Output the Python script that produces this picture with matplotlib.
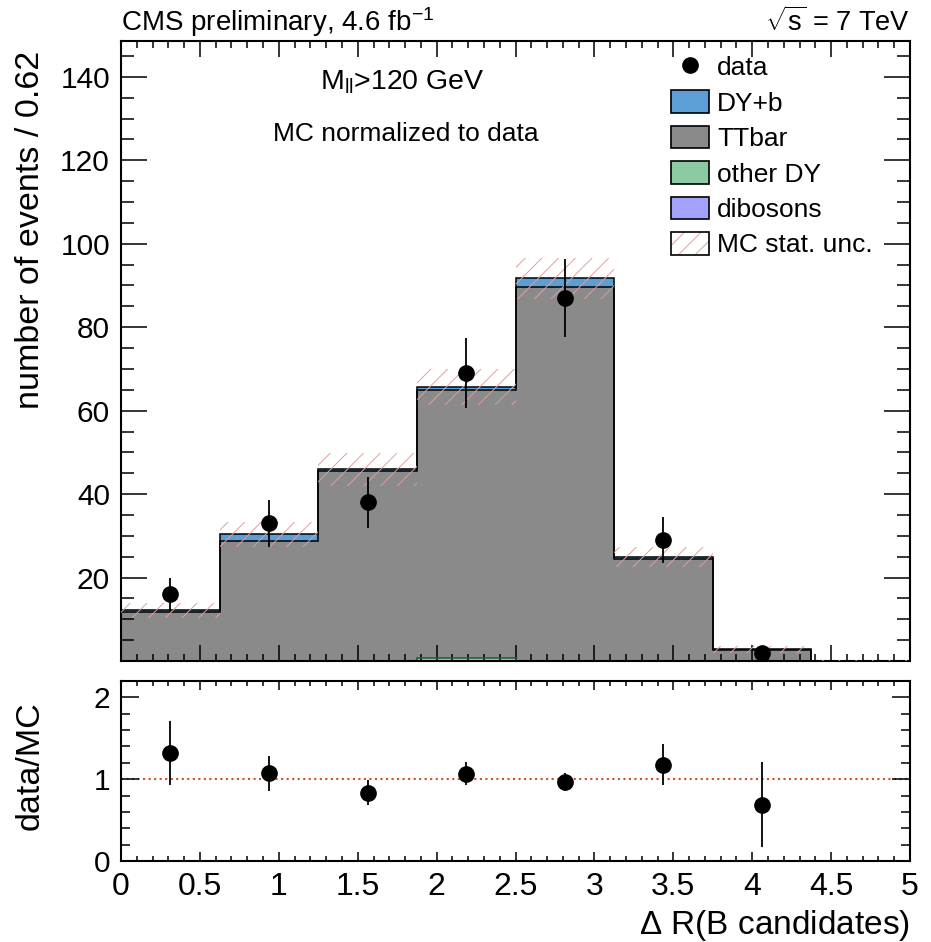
import numpy as np
import matplotlib
matplotlib.use("Agg")
import matplotlib.pyplot as plt
from matplotlib.patches import Patch
from matplotlib.lines import Line2D
from matplotlib.ticker import MultipleLocator

plt.rcParams['font.family'] = ['Liberation Sans', 'DejaVu Sans']
plt.rcParams['mathtext.fontset'] = 'custom'
plt.rcParams['mathtext.rm'] = 'Liberation Sans'
plt.rcParams['mathtext.it'] = 'Liberation Sans'
plt.rcParams['hatch.linewidth'] = 0.7

# histogram binning: 8 bins of 0.625 in Delta R
x_edges = np.linspace(0, 5, 9)

# stacked MC (events / bin), bottom to top
dibosons = [0.0, 0.0, 0.0, 0.0, 0.0, 0.0, 0.0, 0.0]
other_dy = [0.0, 0.0, 0.0, 0.6, 0.0, 0.0, 0.0, 0.0]
ttbar = [11.8, 28.8, 45.5, 64.4, 89.7, 24.5, 2.7, 0.1]
dy_b = [0.4, 1.6, 0.4, 0.7, 2.0, 0.4, 0.1, 0.0]
mc_unc = [1.8, 3.0, 4.0, 4.4, 5.0, 2.4, 0.8, 0.1]

# data
data = [16, 33, 38, 69, 87, 29, 2, 0]
data_err = [4.0, 5.7, 6.2, 8.3, 9.3, 5.4, 1.4, 0.0]

# ratio panel
ratio = [1.32, 1.07, 0.835, 1.065, 0.96, 1.175, 0.685]
ratio_err = [0.39, 0.215, 0.155, 0.14, 0.11, 0.25, 0.52]

c_dyb = '#5b9fd6'
c_tt = '#8a8a8a'
c_odb = '#8ccaa2'
c_dib = '#a3a3fb'
c_hatch = '#e0a0a0'

fig = plt.figure(figsize=(9.31, 9.42), dpi=100)
ax = fig.add_axes([0.130, 0.2983, 0.8475, 0.6582])
rax = fig.add_axes([0.130, 0.0860, 0.8475, 0.1911])

centers = 0.5 * (x_edges[:-1] + x_edges[1:])
width = x_edges[1] - x_edges[0]

# stacked fills
base = np.zeros(len(ttbar))
layers = [(dibosons, c_dib, '#5050a0'), (other_dy, c_odb, '#1f5a30'),
          (ttbar, c_tt, 'black'), (dy_b, c_dyb, 'black')]
tops = []
for vals, fc, ec in layers:
    top = base + np.array(vals)
    ax.stairs(top, x_edges, baseline=base, fill=True, facecolor=fc,
              edgecolor='none', linewidth=0, zorder=1)
    tops.append((top.copy(), ec, np.any(np.array(vals) > 0)))
    base = top
for top, ec, show in tops:
    if show:
        ax.stairs(top, x_edges, baseline=0, fill=False, edgecolor=ec,
                  linewidth=1.1, zorder=2)
total = base

# MC stat band
unc = np.array(mc_unc)
ax.bar(centers, 2 * unc, bottom=total - unc, width=width, fill=False,
       hatch='//', edgecolor=c_hatch, linewidth=0, zorder=3)

# data points
d = np.array(data, dtype=float)
m = d > 0
ax.errorbar(centers[m], d[m], yerr=np.array(data_err)[m], fmt='o', color='black',
            markersize=11, elinewidth=1.3, capsize=0, zorder=5)

ax.set_xlim(0, 5)
ax.set_ylim(0, 148.6)
ax.set_yticks(np.arange(0, 141, 20))
ax.set_yticklabels([''] + [str(v) for v in range(20, 141, 20)])
ax.yaxis.set_minor_locator(MultipleLocator(5))
ax.xaxis.set_major_locator(MultipleLocator(0.5))
ax.xaxis.set_minor_locator(MultipleLocator(0.1))
ax.tick_params(axis='x', which='both', labelbottom=False)
ax.tick_params(which='both', direction='in', top=True, right=True, width=1.1)
ax.tick_params(axis='y', which='major', length=19, labelsize=21.5, pad=8)
ax.tick_params(axis='y', which='minor', length=9.5)
ax.tick_params(axis='x', which='major', length=11.5)
ax.tick_params(axis='x', which='minor', length=5)
for s in ax.spines.values():
    s.set_linewidth(1.5)
ax.set_ylabel('number of events / 0.62', fontsize=24.5, loc='top', labelpad=6)

# texts
fig.text(0.130, 0.967, 'CMS preliminary, 4.6 fb$^{\\mathregular{-1}}$', fontsize=20,
         ha='left', va='baseline')
fig.text(0.9775, 0.967, '$\\sqrt{\\mathregular{s}}$ = 7 TeV', fontsize=19.5,
         ha='right', va='baseline')
ax.text(0.357, 0.933, 'M$_{\\mathregular{ll}}$>120 GeV', transform=ax.transAxes,
        fontsize=20.5, ha='center', va='center')
ax.text(0.361, 0.850, 'MC normalized to data', transform=ax.transAxes,
        fontsize=19, ha='center', va='center')

# legend
handles = [
    Line2D([], [], marker='o', color='black', linestyle='none', markersize=11),
    Patch(facecolor=c_dyb, edgecolor='black', linewidth=1.2),
    Patch(facecolor=c_tt, edgecolor='black', linewidth=1.2),
    Patch(facecolor=c_odb, edgecolor='black', linewidth=1.2),
    Patch(facecolor=c_dib, edgecolor='black', linewidth=1.2),
    (Patch(facecolor='white', edgecolor=c_hatch, hatch='//', linewidth=0),
     Patch(facecolor='none', edgecolor='black', linewidth=1.2)),
]
labels = ['data', 'DY+b', 'TTbar', 'other DY', 'dibosons', 'MC stat. unc.']
ax.legend(handles, labels, loc='upper left', bbox_to_anchor=(0.697, 0.978),
          frameon=False, fontsize=19, borderpad=0, borderaxespad=0,
          handlelength=1.44, handleheight=0.95, handletextpad=0.3,
          labelspacing=0.38)

# ratio panel
rax.errorbar(centers[:len(ratio)], ratio, yerr=ratio_err, fmt='o', color='black',
             markersize=11, elinewidth=1.3, capsize=0, zorder=5)
rax.axhline(1.0, color='#d0502a', linestyle=':', linewidth=1.5, zorder=1)
rax.set_xlim(0, 5)
rax.set_ylim(0, 2.2)
rax.set_yticks([0, 1, 2])
rax.yaxis.set_minor_locator(MultipleLocator(0.2))
rax.xaxis.set_minor_locator(MultipleLocator(0.1))
rax.set_xticks(np.arange(0, 5.01, 0.5))
rax.set_xticklabels(['0', '0.5', '1', '1.5', '2', '2.5', '3', '3.5', '4', '4.5', '5'])
rax.tick_params(which='both', direction='in', top=True, right=True, width=1.1)
rax.tick_params(axis='y', which='major', length=13, labelsize=21.5, pad=8)
rax.tick_params(axis='y', which='minor', length=6.5)
rax.tick_params(axis='x', which='major', length=6.5, labelsize=23, pad=8)
rax.tick_params(axis='x', which='minor', length=3.5)
for s in rax.spines.values():
    s.set_linewidth(1.5)
rax.set_ylabel('data/MC', fontsize=24.5, labelpad=10)
rax.set_xlabel('$\\Delta$ R(B candidates)', fontsize=24, loc='right', labelpad=4)
rax.yaxis.set_label_coords(-0.095, 0.53)
ax.yaxis.set_label_coords(-0.095, 0.984)

fig.savefig('out.png', dpi=100)
